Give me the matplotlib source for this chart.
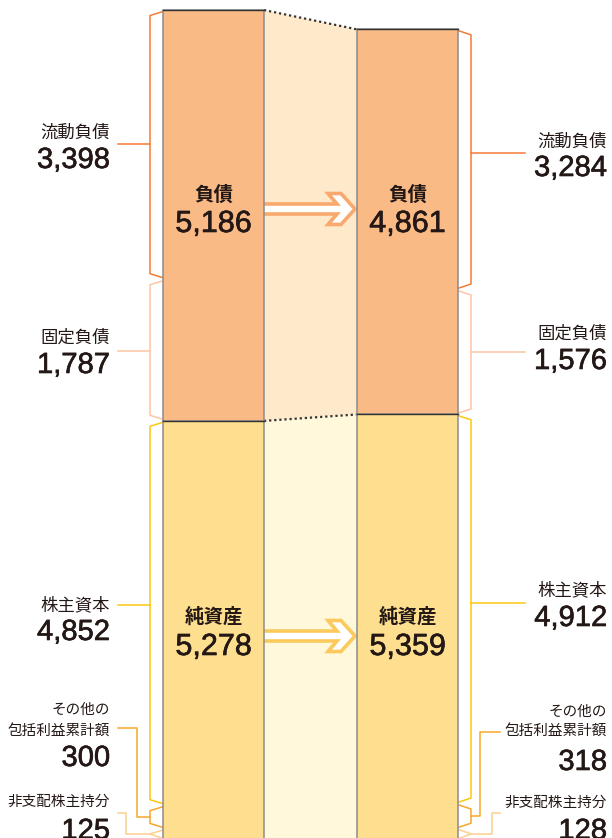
import matplotlib
matplotlib.use('Agg')
import matplotlib.pyplot as plt
from matplotlib.patches import Polygon
import matplotlib.patheffects as pe

plt.rcParams['font.family'] = ['Liberation Sans', 'Noto Sans CJK JP', 'DejaVu Sans']

# balance sheet values (left = previous, right = current)
liab_total = [5186, 4861]
equity_total = [5278, 5359]
current_liab = [3398, 3284]
fixed_liab = [1787, 1576]
share_capital = [4852, 4912]
other_income = [300, 318]
minority = [125, 128]

liab_name = '負債'
equity_name = '純資産'
sub_names = ['流動負債', '固定負債', '株主資本', ['その他の', '包括利益累計額'], '非支配株主持分']

# colours
liab_col = '#F9BA86'
equity_col = '#FDDF8F'
liab_mid = '#FEEACB'
equity_mid = '#FFF8DB'
liab_arrow = '#F9A96E'
equity_arrow = '#FCC95C'
bracket_cols = ['#F47B35', '#FCC6A4', '#FDC80F', '#F6A82A', '#FCD08E']
text_col = '#231815'
CJK = ['Noto Sans CJK JP', 'DejaVu Sans']
heavy = [pe.withStroke(linewidth=0.45, foreground=text_col)]

# layout helpers (pixel positions -> data units)
UNIT = 12.623
def Y(py):
    return (839 - py) * UNIT

bar_left = [163, 357]
bar_w = 101

fig = plt.figure(figsize=(6.12, 8.38), dpi=100)
ax = fig.add_axes([0, 0, 1, 1])
ax.set_xlim(0, 612)
ax.set_ylim(Y(838), Y(0))
ax.axis('off')

# bars
for i in range(2):
    ax.bar(bar_left[i], equity_total[i], width=bar_w, bottom=0, align='edge',
           color=equity_col, edgecolor='#8c8c8c', linewidth=1.1, zorder=3)
    ax.bar(bar_left[i], liab_total[i], width=bar_w, bottom=equity_total[i], align='edge',
           color=liab_col, edgecolor='#8c8c8c', linewidth=1.1, zorder=3)
    x0, x1 = bar_left[i], bar_left[i] + bar_w
    for yv in [equity_total[i], equity_total[i] + liab_total[i]]:
        ax.plot([x0, x1], [yv, yv], color='#333333', lw=1.0, zorder=4)

# middle connection area
xa = bar_left[0] + bar_w
xb = bar_left[1]
top = [equity_total[i] + liab_total[i] for i in range(2)]
ax.add_patch(Polygon([(xa, top[0]), (xb, top[1]), (xb, equity_total[1]), (xa, equity_total[0])],
                     closed=True, facecolor=liab_mid, edgecolor='none', zorder=1))
ax.add_patch(Polygon([(xa, equity_total[0]), (xb, equity_total[1]), (xb, 0), (xa, 0)],
                     closed=True, facecolor=equity_mid, edgecolor='none', zorder=1))
for a, b in [(top[0], top[1]), (equity_total[0], equity_total[1])]:
    ax.plot([xa, xb], [a, b], color='#333333', lw=1.6, linestyle=(0, (1, 1.3)), zorder=2)

# hollow arrows
def hollow_arrow(cy, color):
    shape = [(-3, -5), (73, -5), (64, -15.5), (77, -15.5), (91, 0), (77, 15.5),
             (64, 15.5), (73, 5), (-3, 5)]
    pts = [(xa + dx, Y(cy + dy)) for dx, dy in shape]
    ax.add_patch(Polygon(pts, closed=True, facecolor='white', edgecolor=color,
                         linewidth=2.6, joinstyle='miter', zorder=2))

hollow_arrow(209, liab_arrow)
hollow_arrow(636, equity_arrow)

# centre labels
for i in range(2):
    cx = bar_left[i] + bar_w / 2
    ax.text(cx, Y(195), liab_name, ha='center', va='center', fontsize=14,
            fontweight='bold', family=CJK, color=text_col, zorder=5)
    ax.text(cx, Y(224), f'{liab_total[i]:,}', ha='center', va='center', fontsize=22,
            color=text_col, zorder=5, path_effects=heavy)
    ax.text(cx, Y(617), equity_name, ha='center', va='center', fontsize=14,
            fontweight='bold', family=CJK, color=text_col, zorder=5)
    ax.text(cx, Y(647), f'{equity_total[i]:,}', ha='center', va='center', fontsize=22,
            color=text_col, zorder=5, path_effects=heavy)

# brackets
def bracket(side, hi, lo, color):
    if side == 0:
        xe, bx = bar_left[0], 150
    else:
        xe, bx = bar_left[1] + bar_w + 1, 471
    if (hi - lo) / UNIT > 13:
        pts = [(xe, hi - 1.5 * UNIT), (bx, hi - 5.5 * UNIT), (bx, lo + 5.5 * UNIT), (xe, lo + 1.5 * UNIT)]
    else:
        mid = (hi + lo) / 2
        pts = [(xe, hi - 1 * UNIT), (bx, mid), (xe, lo + 0.5 * UNIT)]
    ax.plot([p[0] for p in pts], [p[1] for p in pts], color=color, lw=1.1, zorder=2)
    return bx, (hi + lo) / 2

parts = [current_liab, fixed_liab, share_capital, other_income, minority]

# per-label layout: connector y, name y, number y (pixels)
left_pos = [(144, 133, 160), (351, 338, 365), (605, 605, 632), (728, (710, 732), 758), (813, 802, 831)]
right_pos = [(153, 142, 168), (352, 334, 361), (603, 590, 618), (732, (712, 732), 762), (813, 803, 831)]

for side in range(2):
    tops = top[side]
    pos = left_pos if side == 0 else right_pos
    tx = 110 if side == 0 else 607
    for k in range(5):
        hi = tops
        lo = tops - parts[k][side]
        if k == 4:
            lo = 0
        tops = lo
        bx, mid = bracket(side, hi, lo, bracket_cols[k])
        cy, ny, vy = pos[k]
        col = bracket_cols[k]
        if k < 3:
            lx = 118 if side == 0 else 525
            ax.plot([lx, bx], [Y(cy), Y(cy)], color=col, lw=1.1, zorder=2)
        else:
            if side == 0:
                lx, ex = 118, (137 if k == 3 else 126)
            else:
                lx, ex = 500, (480 if k == 3 else 492)
            ax.plot([lx, ex, ex, bx], [Y(cy), Y(cy), mid, mid], color=col, lw=1.1, zorder=2)
        name = sub_names[k]
        if isinstance(name, list):
            for line, ly in zip(name, ny):
                ax.text(tx, Y(ly), line, ha='right', va='center', fontsize=10.5,
                        family=CJK, color=text_col)
        else:
            ax.text(tx, Y(ny), name, ha='right', va='center',
                    fontsize=12.5 if k < 3 else 10.5, family=CJK, color=text_col)
        ax.text(tx, Y(vy), f'{parts[k][side]:,}', ha='right', va='center', fontsize=21,
                color=text_col, path_effects=heavy)

fig.savefig('out.png', dpi=100)
